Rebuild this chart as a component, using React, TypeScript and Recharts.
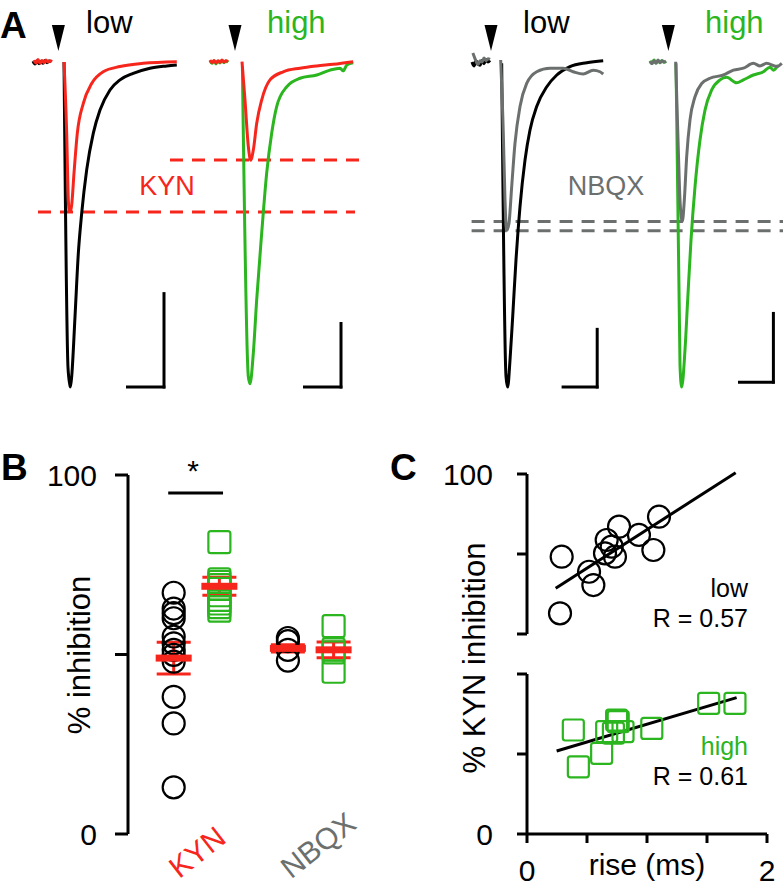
import React from 'react';
import {
  LineChart, Line, XAxis, YAxis, ReferenceLine, ReferenceDot,
  ScatterChart, Scatter, ErrorBar,
} from 'recharts';

const FONT = '"Liberation Sans", Arial, Helvetica, sans-serif';
const RED = '#f7261d';
const GREEN = '#2bb51f';
const GRAY = '#6b706e';
const BLACK = '#000000';

// ---------------- Panel A: EPSC traces (time ms after stimulus, current normalised to control peak)
type P = [number, number | null];

const lowCtrlTrace: P[] = [
  [-7.25, 0.003], [-6.75, -0.006], [-6.25, 0.004], [-5.75, -0.005], [-5.25, 0.002], [-4.75, -0.004],
  [-4.25, 0.005], [-3.75, -0.002], [-3.25, 0.003], [-2.75, 0], [-1, null],
  [0.5, 0], [1.5, -0.94], [1.92, -0.99], [2.1, -1.0], [2.42, -0.968], [3.25, -0.784], [4.08, -0.589],
  [4.92, -0.466], [6.17, -0.332], [7.83, -0.219], [9.5, -0.148], [12, -0.086], [14.5, -0.055],
  [17.8, -0.035], [22, -0.019], [26.2, -0.012], [28.7, -0.009],
];
const lowKynTrace: P[] = [
  [-7.0, 0.006], [-6.5, -0.003], [-6.0, 0.008], [-5.5, -0.004], [-5.0, 0.005], [-4.5, -0.002],
  [-4.0, 0.006], [-3.5, 0], [-3.0, 0.004], [-2.5, 0.001], [-1, null],
  [0.5, 0], [1.17, -0.219], [1.58, -0.425], [1.83, -0.46], [2.1, -0.46], [2.42, -0.44], [3.0, -0.342],
  [3.83, -0.219], [5.33, -0.127], [7.42, -0.066], [10.3, -0.03], [14.5, -0.014], [20.3, -0.004], [28.7, 0.001],
];
const highCtrlTrace: P[] = [
  [-8, 0.004], [-7.5, -0.004], [-7, 0.003], [-6.5, -0.006], [-6, 0.002], [-5.5, -0.003], [-5, 0.005],
  [-4.5, -0.002], [-4, 0.003], [-3.5, -0.001], [-1, null],
  [0.1, -0.014], [1.58, -0.968], [2.0, -0.99], [2.83, -0.896], [3.67, -0.732], [4.92, -0.527],
  [6.17, -0.342], [7.42, -0.219], [8.67, -0.137], [11.2, -0.076], [14.5, -0.05], [18.7, -0.04],
  [22, -0.025], [24.5, -0.019], [25.3, -0.027], [26.2, -0.009], [27.8, -0.002],
];
const highKynTrace: P[] = [
  [-8, 0.006], [-7.5, -0.002], [-7, 0.005], [-6.5, -0.003], [-6, 0.004], [-5.5, -0.001], [-5, 0.006],
  [-4.5, 0], [-4, 0.004], [-3.5, 0.001], [-1, null],
  [0, 0.001], [0.75, -0.117], [1.58, -0.26], [2.17, -0.302], [2.83, -0.271], [3.67, -0.189],
  [4.92, -0.117], [7, -0.055], [10.3, -0.03], [14.5, -0.019], [18.7, -0.012], [22.8, -0.007], [27.8, 0.001],
];
const lowCtrl2Trace: P[] = [
  [-7, 0.0], [-6.5, -0.012], [-6, 0.004], [-5.5, -0.006], [-5, -0.01], [-4.5, 0.005], [-4, -0.005],
  [-3.5, 0.008], [-3, 0], [-2.5, 0.005], [-1, null],
  [0.42, -0.004], [1.5, -0.967], [1.92, -1.0], [2.5, -0.917], [3.17, -0.784], [4, -0.609], [5, -0.445],
  [6.25, -0.302], [7.5, -0.209], [9.17, -0.137], [11.7, -0.076], [14.2, -0.04], [17.5, -0.014],
  [21.7, -0.002], [25.8, 0.004],
];
const lowNbqxTrace: P[] = [
  [-6.8, 0.028], [-6.3, 0.012], [-5.9, 0.0], [-5.5, -0.008], [-5, 0.004], [-4.5, 0.0],
  [-4, 0.012], [-3.5, 0.004], [-3, 0.01], [-2.5, 0.008], [-1, null],
  [0.17, 0.006], [0.83, -0.219], [1.25, -0.425], [1.67, -0.518], [2.25, -0.496], [2.92, -0.384],
  [3.75, -0.25], [5, -0.137], [6.67, -0.066], [9.17, -0.03], [12.5, -0.019], [15.8, -0.019],
  [18.3, -0.03], [20.8, -0.037], [23.3, -0.025], [25, -0.03], [25.8, -0.037],
];
const highCtrl2Trace: P[] = [
  [-6.25, 0.004], [-5.75, -0.004], [-5.25, 0.006], [-4.75, -0.003], [-4.25, 0.004], [-3.75, -0.002],
  [-3.25, 0.005], [-2.75, -0.001], [-2.25, 0.002], [-1, null],
  [0.25, -0.004], [1.25, -0.933], [1.67, -1.0], [2.5, -0.886], [3.17, -0.732], [4, -0.548], [5, -0.384],
  [6.25, -0.24], [7.5, -0.148], [9.17, -0.086], [11.25, -0.055], [12.9, -0.047], [15.4, -0.064],
  [17.1, -0.055], [19.6, -0.04], [22.1, -0.03], [23.75, -0.016], [24.6, -0.025], [25.8, -0.009],
];
const highNbqxTrace: P[] = [
  [-6.25, 0.001], [-5.75, -0.005], [-5.25, 0.004], [-4.75, -0.004], [-4.25, 0.006], [-3.75, -0.002],
  [-3.25, 0.004], [-2.75, 0], [-2.25, 0.003], [-1, null],
  [0.17, 0.001], [0.83, -0.271], [1.25, -0.425], [1.83, -0.491], [2.33, -0.425], [2.92, -0.291],
  [3.75, -0.178], [5, -0.107], [6.67, -0.066], [8.75, -0.05], [12.1, -0.04], [14.6, -0.025],
  [17.1, -0.019], [19.6, -0.004], [21.25, -0.012], [22.9, -0.004], [25.4, -0.014], [26.7, -0.004],
];

// scale bars: [start ms after stimulus, end ms, bottom level, top level]
const scaleBars: [number, number, number, number][] = [
  [16, 25.5, -1.0, -0.708],
  [15.25, 24.75, -1.0, -0.8],
  [15.4, 24.3, -1.0, -0.818],
  [15.75, 24.6, -0.985, -0.769],
];
// stimulus marker times (ms relative to stimulus artefact)
const stimMarkers = [-0.9, -1.75, -2.25, -1.65];
// dashed peak levels
const kynPeakLevels = [-0.4615, -0.3015];
const nbqxPeakLevels = [-0.491, -0.519];

// layout: where each sweep starts on the shared time axis (ms)
const SWEEP_OFFSET = [15.5, 60.5, 125, 168.75];

// split a trace at its blanked (null) samples into continuous segments
const segments = (pts: P[], off: number) => {
  const out: { x: number; y: number }[][] = [[]];
  pts.forEach(([t, v]) => {
    if (v === null) out.push([]);
    else out[out.length - 1].push({ x: t + off, y: v });
  });
  return out.filter((s) => s.length > 1);
};

// ---------------- Panel B
const kynLowB = [67.2, 62.8, 61.5, 60.1, 55, 53.1, 51.3, 49.9, 48, 38.2, 30.8, 13];
const kynHighB = [81.3, 70.9, 70.2, 69.3, 68.3, 66.5, 65.2, 64.2, 63.2, 62.2];
const nbqxLowB = [54.6, 53.7, 51.3, 48.3];
const nbqxHighB = [57.9, 51.4, 50.6, 45.2];
const groupMeans = [49, 69, 51.7, 51.3];
const groupSems = [4.4, 2.5, 1.0, 2.2];
const GROUP_X = [1, 2, 3.5, 4.5];

// ---------------- Panel C
const riseLow = [0.289, 0.275, 0.517, 0.553, 0.664, 0.65, 0.706, 0.733, 0.767, 0.933, 1.053, 1.1];
const kynLowC = [48.3, 12.9, 38.9, 30.6, 58.75, 50.4, 54.6, 48.3, 67.1, 61.9, 52.5, 73.3];
const riseHigh = [0.386, 0.428, 0.622, 0.664, 0.72, 0.747, 0.76, 0.8, 1.04, 1.514, 1.733];
const kynHighC = [65, 42, 50.4, 64, 63, 71.2, 70.2, 64, 66, 81.7, 81.7];
const fitLow = [{ x: 0.239, y: 28.6 }, { x: 1.739, y: 100.8 }];
const fitHigh = [{ x: 0.247, y: 51.9 }, { x: 1.747, y: 85.2 }];

const Circle = (color: string) => (props: any) => (
  <circle cx={props.cx} cy={props.cy} r={11} fill="none" stroke={color} strokeWidth={2.2} />
);
const Square = (color: string, s = 22) => (props: any) => (
  <rect x={props.cx - s / 2} y={props.cy - s / 2} width={s} height={s} rx={2.5} fill="none" stroke={color} strokeWidth={2.2} />
);
const MeanBar = (props: any) => (
  <rect x={props.cx - 18} y={props.cy - 3.5} width={36} height={7} fill={RED} />
);
const Arrow = (props: any) => (
  <polygon points={`${props.cx - 6.5},${props.cy - 13} ${props.cx + 6.5},${props.cy - 13} ${props.cx},${props.cy + 13}`} fill={BLACK} />
);

function PanelA() {
  const traces: { pts: P[]; pair: number; color: string }[] = [
    { pts: lowCtrlTrace, pair: 0, color: BLACK },
    { pts: lowKynTrace, pair: 0, color: RED },
    { pts: highCtrlTrace, pair: 1, color: GREEN },
    { pts: highKynTrace, pair: 1, color: RED },
    { pts: lowCtrl2Trace, pair: 2, color: BLACK },
    { pts: lowNbqxTrace, pair: 2, color: GRAY },
    { pts: highCtrl2Trace, pair: 3, color: GREEN },
    { pts: highNbqxTrace, pair: 3, color: GRAY },
  ];
  const lines: any[] = [];
  traces.forEach((tr, i) => {
    segments(tr.pts, SWEEP_OFFSET[tr.pair]).forEach((seg, j) => {
      lines.push(
        <Line key={`tr${i}_${j}`} name={`tr${i}_${j}`} data={seg} dataKey="y" type="monotone"
          stroke={tr.color} strokeWidth={3} dot={false} activeDot={false} isAnimationActive={false} />
      );
    });
  });
  return (
    <LineChart width={783} height={400} margin={{ top: 0, right: 0, bottom: 0, left: 0 }}>
      <XAxis type="number" dataKey="x" domain={[0, 195.75]} hide allowDataOverflow />
      <YAxis type="number" domain={[-1.04, 0.1908]} hide allowDataOverflow />
      <ReferenceLine segment={[{ x: 9.5, y: kynPeakLevels[0] }, { x: 88.75, y: kynPeakLevels[0] }]} stroke={RED} strokeWidth={3} strokeDasharray="13 9" />
      <ReferenceLine segment={[{ x: 42.5, y: kynPeakLevels[1] }, { x: 90.5, y: kynPeakLevels[1] }]} stroke={RED} strokeWidth={3} strokeDasharray="13 9" />
      {nbqxPeakLevels.map((lv, i) => (
        <ReferenceLine key={'nb' + i} segment={[{ x: 117.9, y: lv }, { x: 195.75, y: lv }]} stroke={GRAY} strokeWidth={3} strokeDasharray="13 9" />
      ))}
      {lines}
      {scaleBars.map(([t0, t1, b, top], i) => (
        <ReferenceLine key={'sbh' + i} segment={[{ x: t0 + SWEEP_OFFSET[i], y: b }, { x: t1 + SWEEP_OFFSET[i] + 0.35, y: b }]} stroke={BLACK} strokeWidth={3} />
      ))}
      {scaleBars.map(([t0, t1, b, top], i) => (
        <ReferenceLine key={'sbv' + i} segment={[{ x: t1 + SWEEP_OFFSET[i], y: b - 0.0046 }, { x: t1 + SWEEP_OFFSET[i], y: top }]} stroke={BLACK} strokeWidth={3} />
      ))}
      {stimMarkers.map((t, i) => (
        <ReferenceDot key={'st' + i} x={t + SWEEP_OFFSET[i]} y={0.074} r={10} shape={Arrow} />
      ))}
    </LineChart>
  );
}

function PanelB() {
  const mk = (vals: number[], gx: number) => vals.map((v) => ({ x: gx, y: v }));
  const means = groupMeans.map((m, i) => ({ x: GROUP_X[i], y: m, sem: groupSems[i] }));
  const tick = { fill: BLACK, fontSize: 30, fontFamily: FONT };
  return (
    <ScatterChart width={400} height={440} margin={{ top: 35, right: 23, bottom: 46, left: 68 }}>
      <XAxis type="number" dataKey="x" domain={[0, 5.45]} hide allowDataOverflow />
      <YAxis type="number" dataKey="y" domain={[0, 100]} ticks={[0, 50, 100]} width={60} allowDataOverflow
        tickFormatter={(v: number) => (v === 50 ? '' : String(v))} tickSize={13} tickMargin={18}
        axisLine={{ stroke: BLACK, strokeWidth: 3 }} tickLine={{ stroke: BLACK, strokeWidth: 3 }} tick={tick} />
      <ReferenceLine segment={[{ x: 0.88, y: 95 }, { x: 2.08, y: 95 }]} stroke={BLACK} strokeWidth={3} />
      <Scatter data={mk(kynLowB, GROUP_X[0])} shape={Circle(BLACK)} isAnimationActive={false} />
      <Scatter data={mk(kynHighB, GROUP_X[1])} shape={Square(GREEN)} isAnimationActive={false} />
      <Scatter data={mk(nbqxLowB, GROUP_X[2])} shape={Circle(BLACK)} isAnimationActive={false} />
      <Scatter data={mk(nbqxHighB, GROUP_X[3])} shape={Square(GREEN)} isAnimationActive={false} />
      <Scatter data={means} shape={MeanBar} isAnimationActive={false}>
        <ErrorBar dataKey="sem" direction="y" width={17} strokeWidth={3} stroke={RED} />
      </Scatter>
    </ScatterChart>
  );
}

function PanelCTop() {
  const tick = { fill: BLACK, fontSize: 30, fontFamily: FONT };
  const data = riseLow.map((r, i) => ({ x: r, y: kynLowC[i] }));
  return (
    <ScatterChart width={383} height={210} margin={{ top: 34, right: 16, bottom: 16, left: 67 }}>
      <XAxis type="number" dataKey="x" domain={[0, 2]} hide allowDataOverflow />
      <YAxis type="number" dataKey="y" domain={[0, 100]} ticks={[0, 50, 100]} width={60} allowDataOverflow
        tickFormatter={(v: number) => (v === 100 ? '100' : '')} tickSize={10} tickMargin={24}
        axisLine={{ stroke: BLACK, strokeWidth: 3 }} tickLine={{ stroke: BLACK, strokeWidth: 3 }} tick={tick} />
      <ReferenceLine segment={fitLow} stroke={BLACK} strokeWidth={3} ifOverflow="visible" />
      <Scatter data={data} shape={Circle(BLACK)} isAnimationActive={false} />
    </ScatterChart>
  );
}

function PanelCBottom() {
  const tick = { fill: BLACK, fontSize: 30, fontFamily: FONT };
  const data = riseHigh.map((r, i) => ({ x: r, y: kynHighC[i] }));
  return (
    <ScatterChart width={383} height={237} margin={{ top: 24, right: 16, bottom: 0, left: 67 }}>
      <XAxis type="number" dataKey="x" domain={[0, 2]} ticks={[0, 0.5, 1, 1.5, 2]} height={53} allowDataOverflow
        tickFormatter={(v: number) => (v === 0 || v === 2 ? String(v) : '')} tickSize={9} tickMargin={17}
        axisLine={{ stroke: BLACK, strokeWidth: 3 }} tickLine={{ stroke: BLACK, strokeWidth: 3 }} tick={tick} />
      <YAxis type="number" dataKey="y" domain={[0, 100]} ticks={[0, 50, 100]} width={60} allowDataOverflow
        tickFormatter={(v: number) => (v === 0 ? '0' : '')} tickSize={10} tickMargin={24}
        axisLine={{ stroke: BLACK, strokeWidth: 3 }} tickLine={{ stroke: BLACK, strokeWidth: 3 }} tick={tick} />
      <ReferenceLine segment={fitHigh} stroke={BLACK} strokeWidth={3} ifOverflow="visible" />
      <Scatter data={data} shape={Square(GREEN, 21)} isAnimationActive={false} />
    </ScatterChart>
  );
}

export default function App() {
  const t = (x: number, y: number, s: string, size: number, color = BLACK, anchor = 'start', extra: any = {}) => (
    <text x={x} y={y} fontSize={size} fill={color} textAnchor={anchor} fontFamily={FONT} {...extra}>{s}</text>
  );
  return (
    <div style={{ position: 'absolute', left: 0, top: 0, width: 783, height: 887, background: '#fff', fontFamily: FONT, overflow: 'hidden' }}>
      <div style={{ position: 'absolute', left: 0, top: 0 }}><PanelA /></div>
      <div style={{ position: 'absolute', left: 0, top: 440 }}><PanelB /></div>
      <div style={{ position: 'absolute', left: 400, top: 440 }}><PanelCTop /></div>
      <div style={{ position: 'absolute', left: 400, top: 650 }}><PanelCBottom /></div>
      <svg width={783} height={887} style={{ position: 'absolute', left: 0, top: 0, pointerEvents: 'none' }}>
        {t(0, 38, 'A', 37, BLACK, 'start', { fontWeight: 'bold' })}
        {t(86, 33, 'low', 31)}
        {t(267, 33, 'high', 31, GREEN)}
        {t(523, 33, 'low', 31)}
        {t(705, 33, 'high', 31, GREEN)}
        {t(167, 195, 'KYN', 27, RED, 'middle')}
        {t(606, 195, 'NBQX', 27, GRAY, 'middle')}
        {t(1, 480, 'B', 37, BLACK, 'start', { fontWeight: 'bold' })}
        {t(193, 481, '*', 30, BLACK, 'middle')}
        <text transform="translate(90,655) rotate(-90)" fontSize={31} textAnchor="middle" fontFamily={FONT} fill={BLACK}>% inhibition</text>
        <text transform="translate(197,852) rotate(-38)" fontSize={30} textAnchor="middle" dy="0.35em" fontFamily={FONT} fill={RED}>KYN</text>
        <text transform="translate(318,845) rotate(-38)" fontSize={30} textAnchor="middle" dy="0.35em" fontFamily={FONT} fill={GRAY}>NBQX</text>
        {t(390, 480, 'C', 37, BLACK, 'start', { fontWeight: 'bold' })}
        <text transform="translate(485,658) rotate(-90)" fontSize={31} textAnchor="middle" fontFamily={FONT} fill={BLACK}>% KYN inhibition</text>
        {t(748, 597, 'low', 25, BLACK, 'end')}
        {t(748, 627, 'R = 0.57', 25, BLACK, 'end')}
        {t(748, 755, 'high', 25, GREEN, 'end')}
        {t(748, 785, 'R = 0.61', 25, BLACK, 'end')}
        {t(647, 875, 'rise (ms)', 30, BLACK, 'middle')}
      </svg>
    </div>
  );
}
